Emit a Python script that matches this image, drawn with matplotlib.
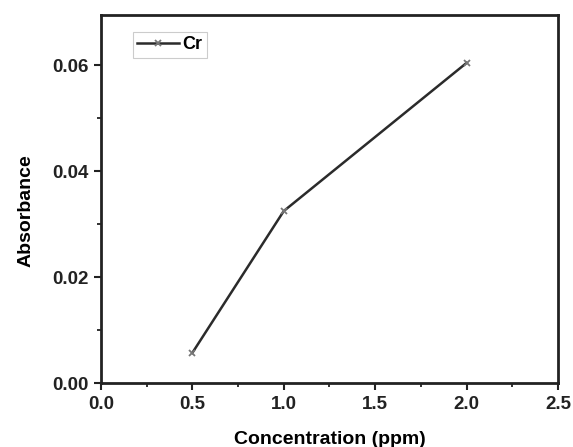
import numpy as np
from matplotlib import pyplot as plt
from matplotlib.ticker import MultipleLocator

conc = [0.5, 1.0, 2.0]
absorbance = [0.0057, 0.0325, 0.0605]
series_name = 'Cr'

plt.rcParams['font.family'] = ['Liberation Sans', 'DejaVu Sans']
plt.rcParams['font.weight'] = 'bold'

fig = plt.figure(figsize=(5.73, 4.47), dpi=100)
ax = fig.add_axes([0.176, 0.143, 0.798, 0.823])

ax.plot(conc, absorbance, color='#2b2b2b', lw=1.8, marker='x',
        markersize=4.5, markeredgecolor='#777777', markeredgewidth=1.3,
        label=series_name)

ax.set_xlim(0, 2.5)
ax.set_ylim(0, 0.0695)
ax.xaxis.set_major_locator(MultipleLocator(0.5))
ax.xaxis.set_minor_locator(MultipleLocator(0.25))
ax.yaxis.set_major_locator(MultipleLocator(0.02))
ax.yaxis.set_minor_locator(MultipleLocator(0.01))
ax.yaxis.set_major_formatter(plt.FormatStrFormatter('%.2f'))
ax.xaxis.set_major_formatter(plt.FormatStrFormatter('%.1f'))

for s in ax.spines.values():
    s.set_linewidth(2.0)
    s.set_color('#222222')
ax.tick_params(which='major', direction='out', length=5, width=1.5,
               labelsize=13.5, colors='#222222', pad=4)
ax.tick_params(which='minor', direction='out', length=3, width=1.3,
               colors='#222222')

ax.set_xlabel('Concentration (ppm)', fontsize=14, fontweight='bold', labelpad=13)
ax.set_ylabel('Absorbance', fontsize=14, fontweight='bold')
ax.yaxis.set_label_coords(-0.145, 0.47)

leg = ax.legend(loc='upper left', bbox_to_anchor=(0.05, 0.98), fontsize=13,
                handlelength=2.3, handletextpad=0.2, borderpad=0.25,
                fancybox=False, edgecolor='#cccccc', framealpha=1)
leg.get_frame().set_linewidth(0.8)

fig.savefig('out.png', dpi=100)
